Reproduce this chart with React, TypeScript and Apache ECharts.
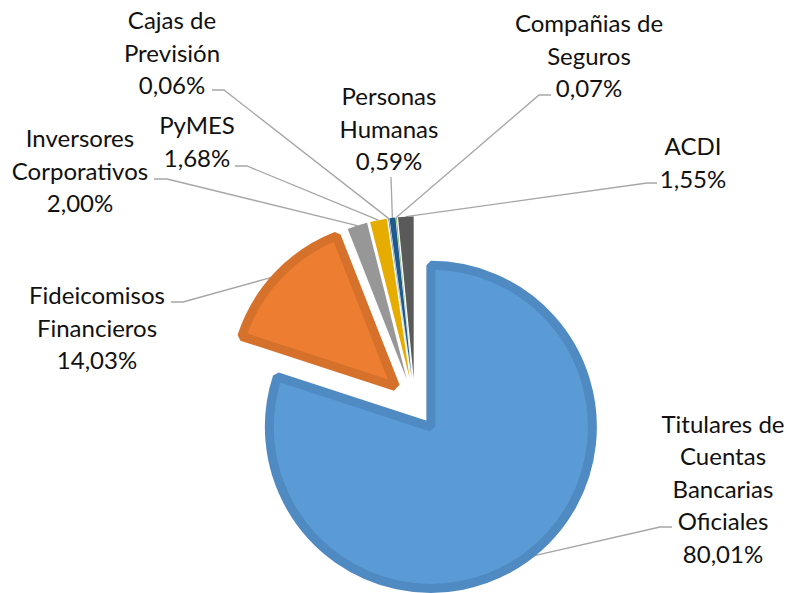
import React, { useEffect, useRef } from 'react';
import * as echarts from 'echarts';

// ---- data ----
const categories = [
  'Titulares de Cuentas Bancarias Oficiales',
  'Fideicomisos Financieros',
  'Inversores Corporativos',
  'PyMES',
  'Cajas de Previsión',
  'Personas Humanas',
  'Compañias de Seguros',
  'ACDI',
];
const labelNames = [
  'Titulares de\nCuentas\nBancarias\nOficiales',
  'Fideicomisos\nFinancieros',
  'Inversores\nCorporativos',
  'PyMES',
  'Cajas de\nPrevisión',
  'Personas\nHumanas',
  'Compañias de\nSeguros',
  'ACDI',
];
const shares = [80.01, 14.03, 2.0, 1.68, 0.06, 0.59, 0.07, 1.55];

// ---- styles ----
const fillColors = ['#5B9BD5', '#ED7D31', '#A5A5A5', '#FFC000', '#4472C4', '#255E91', '#70AD47', '#636363'];
const bandColors = ['#4F8AC2', '#D6712C', '#979797', '#E6AD00', '#3D67B0', '#1F5A8C', '#659C40', '#5A5A5A'];

// ---- layout ----
const CENTER = [415, 405];
const RADIUS = 161.5;
const EXPLODE = 27;
const BAND = 9;
const labelAnchors: number[][] = [
  [723, 488],
  [97, 327],
  [80, 170],
  [197, 141],
  [172, 52],
  [389, 128],
  [589, 55],
  [693, 162],
];
// [elbow, end] for each leader line
const leaderEnds: number[][][] = [
  [[660, 527], [672, 527]],
  [[183, 302], [171, 302]],
  [[167, 179], [154, 179]],
  [[247, 166], [235, 166]],
  [[224, 90], [212, 90]],
  [[391, 177], [391, 177]],
  [[539, 95], [551, 95]],
  [[647, 183], [657, 183]],
];

function formatShare(v: number) {
  return v.toFixed(2).replace('.', ',') + '%';
}

export default function App() {
  const ref = useRef<HTMLDivElement>(null);
  useEffect(() => {
    const chart = echarts.init(ref.current as HTMLDivElement, null, { renderer: 'svg' });
    const total = shares.reduce((a, b) => a + b, 0);
    let cum = 0;
    const series = shares.map((v, i) => {
      const mid = ((cum + v / 2) / total) * 2 * Math.PI;
      cum += v;
      const cx = CENTER[0] + EXPLODE * Math.sin(mid);
      const cy = CENTER[1] - EXPLODE * Math.cos(mid);
      const big = v / total > 0.05;
      return {
        type: 'pie',
        center: [cx, cy],
        radius: RADIUS,
        startAngle: 90,
        clockwise: true,
        avoidLabelOverlap: false,
        silent: true,
        z: i === 0 ? 1 : 2,
        data: shares.map((w, j) =>
          j === i
            ? {
                name: categories[j],
                value: w,
                itemStyle: big
                  ? { color: fillColors[j], borderColor: bandColors[j], borderWidth: BAND, borderJoin: 'bevel' }
                  : { color: bandColors[j], borderWidth: 0 },
                label: { show: true, formatter: labelNames[j] + '\n' + formatShare(w) },
                labelLine: { show: true },
              }
            : {
                name: categories[j],
                value: w,
                itemStyle: { color: 'rgba(0,0,0,0)', borderWidth: 0 },
                label: { show: false },
                labelLine: { show: false },
              }
        ),
        label: {
          position: 'outside',
          fontFamily: 'Lato',
          fontSize: 24,
          lineHeight: 32.5,
          color: '#111111',
        },
        labelLine: { show: true, lineStyle: { color: '#A6A6A6', width: 1.3 } },
        labelLayout: (params: any) => {
          const p0 = params.labelLinePoints && params.labelLinePoints[0];
          const [elbow, end] = leaderEnds[i];
          const out: any = {
            x: labelAnchors[i][0],
            y: labelAnchors[i][1],
            align: 'center',
            verticalAlign: 'middle',
          };
          if (p0) out.labelLinePoints = [p0, elbow, end];
          return out;
        },
      };
    });
    chart.setOption({
      animation: false,
      backgroundColor: '#ffffff',
      series,
    } as any);
    return () => chart.dispose();
  }, []);
  return <div ref={ref} style={{ position: 'absolute', left: 0, top: 0, width: 787, height: 593 }} />;
}
